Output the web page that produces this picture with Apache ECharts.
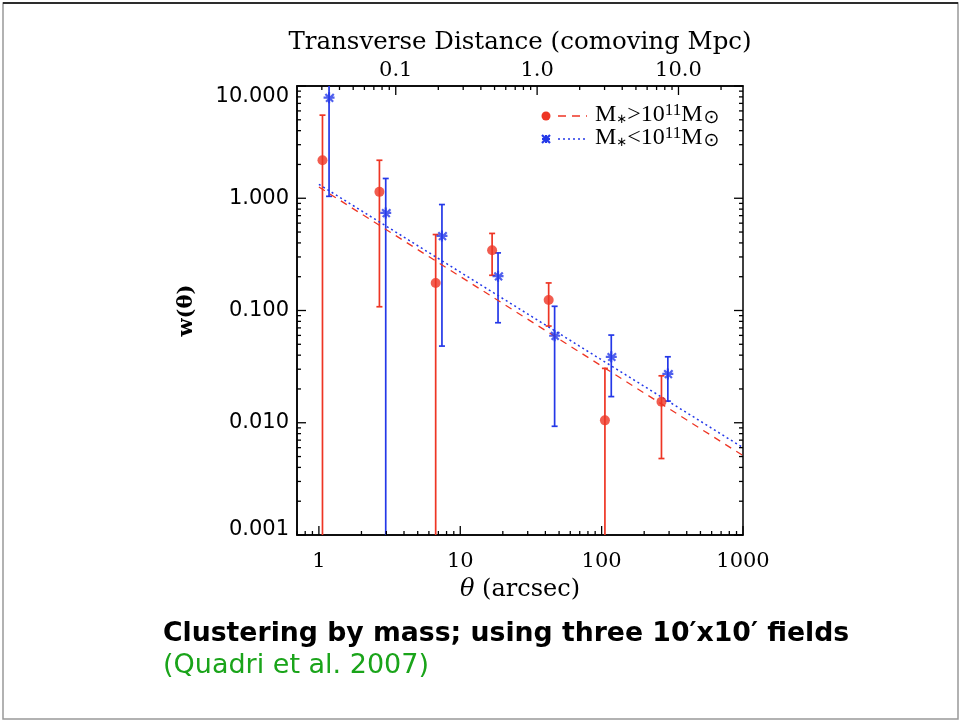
<!DOCTYPE html>
<html lang="en">
<head>
    <meta charset="UTF-8">
    <title>Clustering by mass</title>
    <style>
        body { margin: 0; background: #fff; }
        #main { width: 960px; height: 721px; }
    </style>
</head>
<body>
    <div id="main"></div>
    <script src="https://cdn.jsdelivr.net/npm/echarts@6/dist/echarts.min.js"></script>
    <script>
        // theta (arcsec), w(theta), lower and upper error (0 = goes off the bottom)
        var hiTheta = [1.06, 2.68, 6.7, 16.8, 42.2, 105.5, 265];
        var hiW     = [2.18, 1.14, 0.176, 0.344, 0.124, 0.0105, 0.0154];
        var hiLow   = [0, 0.108, 0, 0.206, 0.0727, 0, 0.0048];
        var hiHigh  = [5.5, 2.18, 0.475, 0.486, 0.176, 0.0305, 0.0262];

        var loTheta = [1.18, 2.97, 7.42, 18.5, 46.5, 117, 294];
        var loW     = [7.87, 0.74, 0.462, 0.202, 0.0596, 0.0387, 0.0272];
        var loLow   = [1.04, 0, 0.0482, 0.0778, 0.0093, 0.0171, 0.0156];
        var loHigh  = [20, 1.5, 0.879, 0.326, 0.109, 0.0604, 0.0387];

        // power-law fits, end points
        var hiFit = [[1, 1.26], [1000, 0.0051]];
        var loFit = [[1, 1.33], [1000, 0.0060]];

        var thetaLabels = [1, 10, 100, 1000];
        var mpcLabels = [0.1, 1, 10];
        var wLabels = [0.001, 0.01, 0.1, 1, 10];

        var mpcPerArcsec = 0.0286;
        var xMin = 0.7, xMax = 1000, yMin = 0.001, yMax = 10;

        var RED = '#ee3524';
        var BLUE = '#2438e8';
        var SERIF = 'DejaVu Serif';

        function near(v, list) {
            for (var i = 0; i < list.length; i++) {
                if (Math.abs(v - list[i]) / list[i] < 1e-6) return true;
            }
            return false;
        }

        // tick marks: [theta, w, side, length]  side 0 bottom, 1 top, 2 left, 3 right
        var ticks = [];
        var d, m;
        for (d = -1; d <= 3; d++) {
            for (m = 1; m <= 9; m++) {
                var t = m * Math.pow(10, d);
                if (t < xMin - 1e-9 || t > xMax + 1e-9) continue;
                ticks.push([t, yMin, 0, m === 1 ? 9 : 4]);
            }
        }
        for (d = -2; d <= 1; d++) {
            for (m = 1; m <= 9; m++) {
                var dist = m * Math.pow(10, d);
                var th = dist / mpcPerArcsec;
                if (th < xMin || th > xMax) continue;
                ticks.push([th, yMax, 1, m === 1 ? 9 : 4]);
            }
        }
        for (d = -3; d <= 1; d++) {
            for (m = 1; m <= 9; m++) {
                var w = m * Math.pow(10, d);
                if (w > yMax + 1e-9) continue;
                ticks.push([xMin, w, 2, m === 1 ? 9 : 4]);
                ticks.push([xMax, w, 3, m === 1 ? 9 : 4]);
            }
        }

        function zip(a, b, c, e) {
            return a.map(function (v, i) { return [v, b[i], c[i], e[i]]; });
        }

        function errorBars(color) {
            return function (params, api) {
                var cs = params.coordSys;
                var x = api.value(0);
                var lo = api.value(2), hi = api.value(3);
                var top = api.coord([x, hi]);
                var px = top[0];
                var yTop = top[1], yBot;
                var capTop = true, capBot = true;
                if (yTop < cs.y) { yTop = cs.y; capTop = false; }
                if (lo > 0) {
                    yBot = api.coord([x, lo])[1];
                } else {
                    yBot = cs.y + cs.height; capBot = false;
                }
                if (yBot > cs.y + cs.height) { yBot = cs.y + cs.height; capBot = false; }
                var style = { stroke: color, lineWidth: 1.7 };
                var kids = [{ type: 'line', shape: { x1: px, y1: yTop, x2: px, y2: yBot }, style: style }];
                if (capTop) kids.push({ type: 'line', shape: { x1: px - 3, y1: yTop, x2: px + 3, y2: yTop }, style: style });
                if (capBot) kids.push({ type: 'line', shape: { x1: px - 3, y1: yBot, x2: px + 3, y2: yBot }, style: style });
                return { type: 'group', children: kids };
            };
        }

        var asterisk = 'path://M4 0h2v10h-2z M0 4h10v2h-10z M1 2.4l1.4-1.4 7 7-1.4 1.4z M8.6 1l1.4 1.4-7 7-1.4-1.4z';

        function starLines(cx, cy, r, color) {
            var s = { stroke: color, lineWidth: 2.2 };
            return [
                { type: 'line', shape: { x1: cx - r, y1: cy, x2: cx + r, y2: cy }, style: s },
                { type: 'line', shape: { x1: cx, y1: cy - r, x2: cx, y2: cy + r }, style: s },
                { type: 'line', shape: { x1: cx - r, y1: cy - r, x2: cx + r, y2: cy + r }, style: s },
                { type: 'line', shape: { x1: cx - r, y1: cy + r, x2: cx + r, y2: cy - r }, style: s }
            ];
        }

        var legendRich = {
            m: { fontFamily: 'Liberation Serif', fontSize: 24, fill: '#000' },
            s: { fontFamily: 'DejaVu Sans', fontSize: 13, fill: '#000', padding: [9, 0, 0, 0] },
            u: { fontFamily: 'Liberation Serif', fontSize: 17, fill: '#000', padding: [0, 0, 9, 0] },
            o: { fontFamily: 'DejaVu Sans', fontSize: 19, fill: '#000', padding: [7, 0, 0, 1] }
        };

        var chart = echarts.init(document.getElementById('main'));
        var option = {
            backgroundColor: '#fff',
            animation: false,
            grid: {
                left: 297, top: 86, width: 446, height: 449,
                show: true, borderColor: '#000', borderWidth: 1.5
            },
            xAxis: [
                {
                    type: 'log', logBase: 10, min: xMin, max: xMax, position: 'bottom',
                    axisLine: { show: true, lineStyle: { color: '#000', width: 1.5 } },
                    axisTick: { show: false },
                    splitLine: { show: false },
                    axisLabel: {
                        color: '#000', fontFamily: SERIF, fontSize: 21, margin: 16,
                        showMinLabel: true, showMaxLabel: true,
                        formatter: function (v) { return near(v, thetaLabels) ? String(Math.round(v)) : ''; }
                    },
                    name: '{it|θ} (arcsec)', nameLocation: 'middle', nameGap: 43,
                    nameTextStyle: {
                        color: '#000', fontFamily: SERIF, fontSize: 24,
                        rich: { it: { fontFamily: SERIF, fontStyle: 'italic', fontSize: 24, color: '#000' } }
                    }
                },
                {
                    type: 'log', logBase: 10, min: xMin * mpcPerArcsec, max: xMax * mpcPerArcsec, position: 'top',
                    axisLine: { show: true, lineStyle: { color: '#000', width: 1.5 } },
                    axisTick: { show: false },
                    splitLine: { show: false },
                    axisLabel: {
                        color: '#000', fontFamily: SERIF, fontSize: 21, margin: 5,
                        formatter: function (v) { return near(v, mpcLabels) ? v.toFixed(1) : ''; }
                    },
                    name: 'Transverse Distance (comoving Mpc)', nameLocation: 'middle', nameGap: 29,
                    nameTextStyle: { color: '#000', fontFamily: SERIF, fontSize: 24.5 }
                }
            ],
            yAxis: {
                type: 'log', logBase: 10, min: yMin, max: yMax,
                axisLine: { show: true, lineStyle: { color: '#000', width: 1.5 } },
                axisTick: { show: false },
                splitLine: { show: false },
                axisLabel: {
                    color: '#000', fontFamily: 'DejaVu Sans', fontSize: 21, margin: 8,
                    formatter: function (v) {
                        if (!near(v, wLabels)) return '';
                        if (near(v, [10])) return '{top|' + v.toFixed(3) + '}';
                        if (near(v, [0.001])) return '{bot|' + v.toFixed(3) + '}';
                        return v.toFixed(3);
                    },
                    rich: {
                        top: { fontFamily: 'DejaVu Sans', fontSize: 21, color: '#000', padding: [22, 0, 0, 0] },
                        bot: { fontFamily: 'DejaVu Sans', fontSize: 21, color: '#000', padding: [0, 0, 10, 0] }
                    }
                },
                name: 'w(θ)', nameLocation: 'middle', nameGap: 100, nameRotate: 90,
                nameTextStyle: { color: '#000', fontFamily: SERIF, fontWeight: 'bold', fontSize: 21 }
            },
            series: [
                {
                    name: 'ticks', type: 'custom', silent: true, z: 5,
                    renderItem: function (params, api) {
                        var p = api.coord([api.value(0), api.value(1)]);
                        var side = api.value(2), len = api.value(3);
                        var dx = 0, dy = 0;
                        if (side === 0) dy = -len;
                        else if (side === 1) dy = len;
                        else if (side === 2) dx = len;
                        else dx = -len;
                        return {
                            type: 'line',
                            shape: { x1: p[0], y1: p[1], x2: p[0] + dx, y2: p[1] + dy },
                            style: { stroke: '#000', lineWidth: 1.3 }
                        };
                    },
                    data: ticks
                },
                {
                    name: 'fitHi', type: 'line', data: hiFit, showSymbol: false, silent: true,
                    lineStyle: { color: RED, width: 1.3, type: [7, 6] }
                },
                {
                    name: 'fitLo', type: 'line', data: loFit, showSymbol: false, silent: true,
                    lineStyle: { color: BLUE, width: 1.5, type: [2, 3] }
                },
                {
                    name: 'errHi', type: 'custom', renderItem: errorBars(RED),
                    data: zip(hiTheta, hiW, hiLow, hiHigh), z: 3
                },
                {
                    name: 'errLo', type: 'custom', renderItem: errorBars(BLUE),
                    data: zip(loTheta, loW, loLow, loHigh), z: 3
                },
                {
                    name: 'M>1e11', type: 'scatter', symbol: 'circle', symbolSize: 10, z: 4,
                    itemStyle: { color: RED },
                    data: hiTheta.map(function (v, i) { return [v, hiW[i]]; })
                },
                {
                    name: 'M<1e11', type: 'scatter', symbol: asterisk, symbolSize: 11, z: 4,
                    itemStyle: { color: BLUE },
                    data: loTheta.map(function (v, i) { return [v, loW[i]]; })
                }
            ],
            graphic: [
                // slide frame
                { type: 'rect', shape: { x: 3, y: 3, width: 955, height: 716 }, style: { fill: 'none', stroke: '#999', lineWidth: 1.5 } },
                { type: 'line', shape: { x1: 3, y1: 3, x2: 958, y2: 3 }, style: { stroke: '#000', lineWidth: 1.5 } },
                // legend
                { type: 'circle', shape: { cx: 546, cy: 116, r: 4.5 }, style: { fill: RED } },
                { type: 'line', shape: { x1: 558, y1: 116, x2: 587, y2: 116 }, style: { stroke: RED, lineWidth: 1.3, lineDash: [8, 6] } },
                {
                    type: 'text', x: 595, y: 102,
                    style: { text: '{m|M}{s|∗}{m|>10}{u|11}{m|M}{o|⊙}', rich: legendRich }
                },
                { type: 'group', children: starLines(546, 139, 4, BLUE) },
                { type: 'line', shape: { x1: 558, y1: 139, x2: 587, y2: 139 }, style: { stroke: BLUE, lineWidth: 1.5, lineDash: [2, 3] } },
                {
                    type: 'text', x: 595, y: 125,
                    style: { text: '{m|M}{s|∗}{m|<10}{u|11}{m|M}{o|⊙}', rich: legendRich }
                },
                // caption
                {
                    type: 'text', x: 163, y: 621,
                    style: { text: 'Clustering by mass; using three 10′x10′ fields', font: 'bold 26.7px "DejaVu Sans"', fill: '#000' }
                },
                {
                    type: 'text', x: 163, y: 652,
                    style: { text: '(Quadri et al. 2007)', font: '27px "DejaVu Sans"', fill: '#1aa41a' }
                }
            ]
        };
        chart.setOption(option);
    </script>
</body>
</html>
